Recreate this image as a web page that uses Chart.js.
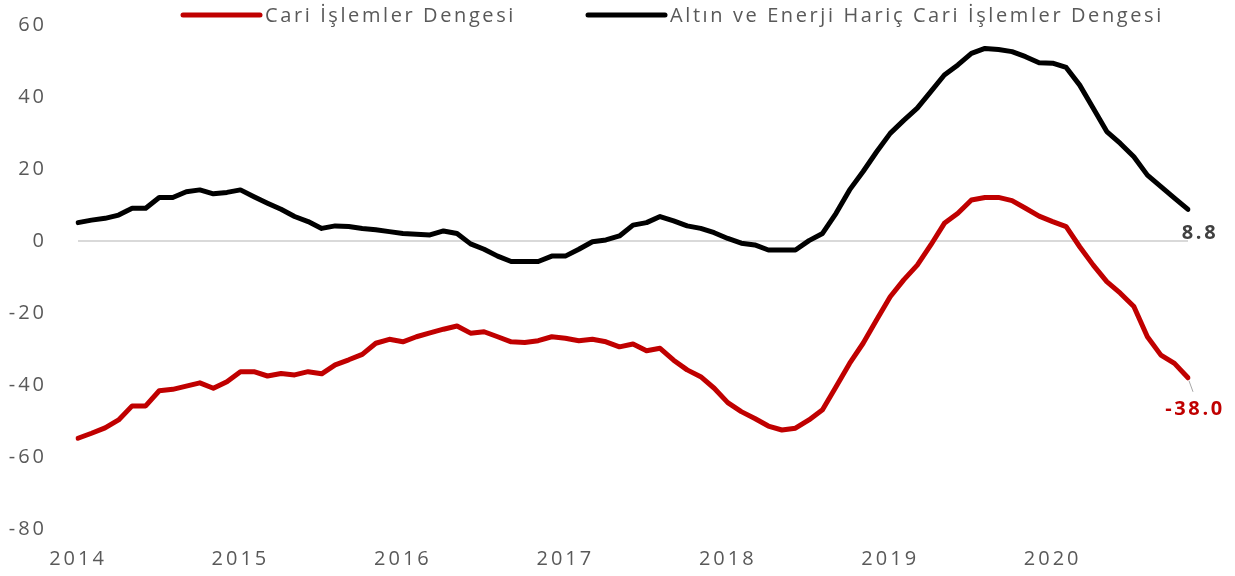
<!DOCTYPE html>
<html>
<head>
<meta charset="utf-8">
<script src="https://cdn.jsdelivr.net/npm/chart.js@4.4.1/dist/chart.umd.min.js"></script>
<style>
  html, body { margin: 0; padding: 0; background: #ffffff; }
  #wrap { width: 1235px; height: 576px; position: relative; }
</style>
</head>
<body>
<div id="wrap"><canvas id="c" width="1235" height="576"></canvas></div>
<script>
// ---- Data (monthly, Jan 2014 - Nov 2020, 12-month rolling, billion USD) ----
const years = ['2014', '2015', '2016', '2017', '2018', '2019', '2020'];
const monthsInLastYear = 11;
const seriesNames = ['Cari İşlemler Dengesi', 'Altın ve Enerji Hariç Cari İşlemler Dengesi'];

const cariDenge = [
  -54.8, -53.4, -51.9, -49.7, -45.8, -45.8, -41.6, -41.2, -40.3, -39.4, -40.9, -39.1,
  -36.3, -36.3, -37.5, -36.8, -37.2, -36.3, -36.9, -34.4, -33.0, -31.5, -28.4, -27.3,
  -28.0, -26.6, -25.5, -24.5, -23.6, -25.6, -25.2, -26.6, -28.0, -28.2, -27.7, -26.6,
  -27.0, -27.7, -27.3, -28.0, -29.4, -28.6, -30.5, -29.8, -33.1, -35.8, -37.7, -40.9,
  -44.9, -47.4, -49.3, -51.4, -52.5, -52.0, -49.7, -46.9, -40.5, -34.0, -28.4, -21.9,
  -15.5, -10.8, -6.7, -1.1, 4.9, 7.7, 11.4, 12.1, 12.1, 11.2, 9.1, 6.9,
  5.4, 4.0, -1.6, -6.7, -11.3, -14.5, -18.2, -26.6, -31.7, -34.0, -38.0
];

const altinEnerjiHaric = [
  5.1, 5.8, 6.3, 7.2, 9.1, 9.1, 12.1, 12.1, 13.7, 14.2, 13.1, 13.5,
  14.2, 12.3, 10.5, 8.8, 6.8, 5.4, 3.5, 4.2, 4.0, 3.5, 3.1, 2.6,
  2.1, 1.9, 1.7, 2.8, 2.1, -0.8, -2.3, -4.2, -5.7, -5.7, -5.7, -4.2,
  -4.2, -2.3, -0.2, 0.3, 1.4, 4.4, 5.1, 6.8, 5.6, 4.2, 3.5, 2.3,
  0.7, -0.6, -1.1, -2.5, -2.5, -2.5, 0.1, 2.1, 7.7, 14.2, 19.3, 24.8,
  29.9, 33.5, 36.9, 41.5, 46.1, 48.9, 52.1, 53.5, 53.2, 52.6, 51.2, 49.5,
  49.4, 48.2, 43.3, 36.9, 30.4, 27.1, 23.4, 18.3, 15.1, 11.9, 8.8
];

const yTicks = [-80, -60, -40, -20, 0, 20, 40, 60];
const endLabels = ['-38.0', '8.8'];

// month categories "YYYY-MM"
const categories = [];
years.forEach((y, yi) => {
  const n = (yi === years.length - 1) ? monthsInLastYear : 12;
  for (let m = 1; m <= n; m++) categories.push(y + '-' + String(m).padStart(2, '0'));
});

const RED = '#C00000';
const BLACK = '#000000';
const TEXT = '#595959';
const FONT = "'Open Sans', 'Liberation Sans', sans-serif";

const ctx = document.getElementById('c').getContext('2d');

const spacingPlugin = {
  id: 'tickSpacing',
  beforeDraw(chart) {
    try { chart.ctx.letterSpacing = '3px'; } catch (e) {}
  }
};

const legendPlugin = {
  id: 'customLegend',
  afterDraw(chart) {
    const c = chart.ctx;
    const items = [
      { text: seriesNames[0], color: RED, x: 183 },
      { text: seriesNames[1], color: BLACK, x: 588 }
    ];
    c.save();
    try { c.letterSpacing = '2.6px'; } catch (e) {}
    c.font = '20px ' + FONT;
    c.textBaseline = 'middle';
    c.textAlign = 'left';
    items.forEach(it => {
      c.strokeStyle = it.color;
      c.lineWidth = 5;
      c.lineCap = 'round';
      c.beginPath();
      c.moveTo(it.x, 15);
      c.lineTo(it.x + 77, 15);
      c.stroke();
      c.fillStyle = TEXT;
      c.fillText(it.text, it.x + 82, 16);
    });
    c.restore();
  }
};

const endLabelPlugin = {
  id: 'endLabels',
  afterDatasetsDraw(chart) {
    const c = chart.ctx;
    c.save();
    try { c.letterSpacing = '2.6px'; } catch (e) {}
    c.font = 'bold 20px ' + FONT;
    c.textAlign = 'center';
    c.textBaseline = 'middle';
    // red
    const m0 = chart.getDatasetMeta(0);
    const p0 = m0.data[m0.data.length - 1];
    c.strokeStyle = '#A6A6A6';
    c.lineWidth = 1;
    c.beginPath();
    c.moveTo(p0.x + 1, p0.y + 3);
    c.lineTo(p0.x + 5, p0.y + 14);
    c.stroke();
    c.fillStyle = RED;
    c.fillText(endLabels[0], p0.x + 7, p0.y + 31);
    // black
    const m1 = chart.getDatasetMeta(1);
    const p1 = m1.data[m1.data.length - 1];
    c.fillStyle = '#404040';
    c.fillText(endLabels[1], p1.x + 12, p1.y + 24);
    c.restore();
  }
};

new Chart(ctx, {
  type: 'line',
  data: {
    labels: categories,
    datasets: [
      {
        label: seriesNames[0],
        data: cariDenge,
        borderColor: RED,
        borderWidth: 5,
        pointRadius: 0,
        tension: 0,
        borderJoinStyle: 'round',
        borderCapStyle: 'round'
      },
      {
        label: seriesNames[1],
        data: altinEnerjiHaric,
        borderColor: BLACK,
        borderWidth: 5,
        pointRadius: 0,
        tension: 0,
        borderJoinStyle: 'round',
        borderCapStyle: 'round'
      }
    ]
  },
  options: {
    responsive: false,
    animation: false,
    devicePixelRatio: 1,
    layout: { padding: { top: 25, right: 47, left: 0, bottom: 0 } },
    plugins: {
      legend: { display: false },
      tooltip: { enabled: false }
    },
    scales: {
      x: {
        type: 'category',
        offset: false,
        border: { display: false },
        grid: { display: false, drawTicks: false },
        ticks: {
          autoSkip: false,
          maxRotation: 0,
          minRotation: 0,
          padding: 18,
          color: TEXT,
          font: { family: FONT, size: 20 },
          callback(value, index) {
            const lab = categories[index];
            return lab.endsWith('-01') ? lab.slice(0, 4) : '';
          }
        },
        afterFit(scale) { scale.height = 47; }
      },
      y: {
        min: -80,
        max: 60,
        border: { display: false },
        grid: {
          drawTicks: true,
          tickLength: 31,
          tickColor: 'rgba(0,0,0,0)',
          lineWidth: 2,
          color(ctx) { return ctx.tick && ctx.tick.value === 0 ? '#D9D9D9' : 'rgba(0,0,0,0)'; }
        },
        afterBuildTicks(scale) { scale.ticks = yTicks.map(v => ({ value: v })); },
        ticks: {
          padding: 0,
          color: TEXT,
          font: { family: FONT, size: 20 }
        },
        afterFit(scale) { scale.width = 78; }
      }
    }
  },
  plugins: [spacingPlugin, legendPlugin, endLabelPlugin]
});
</script>
</body>
</html>
